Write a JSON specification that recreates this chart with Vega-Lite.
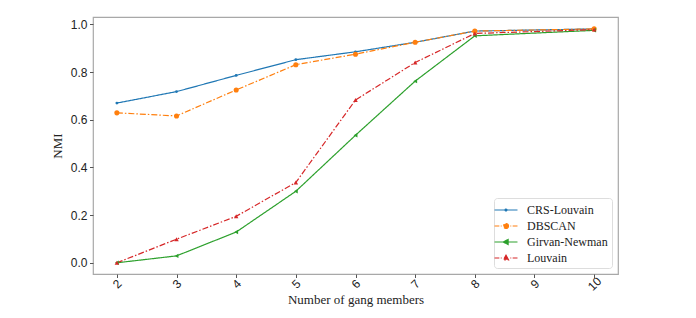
{
  "$schema": "https://vega.github.io/schema/vega-lite/v6.json",
  "width": 525,
  "height": 257,
  "autosize": {"type": "none"},
  "padding": {"left": 93, "top": 17, "right": 78, "bottom": 44},
  "background": "white",
  "config": {
    "view": {"stroke": "#a8a8a8", "strokeWidth": 1.2},
    "axis": {"grid": false, "domain": false, "tickColor": "#555", "tickSize": 3.5, "labelFont": "Liberation Sans", "labelFontSize": 12, "labelColor": "#222", "titleFont": "Liberation Serif", "titleFontSize": 13, "titleFontWeight": "normal", "titleColor": "#222"}
  },
  "data": {"values": [
    {"n": 2, "method": "CRS-Louvain", "nmi": 0.670},
    {"n": 3, "method": "CRS-Louvain", "nmi": 0.718},
    {"n": 4, "method": "CRS-Louvain", "nmi": 0.786},
    {"n": 5, "method": "CRS-Louvain", "nmi": 0.852},
    {"n": 6, "method": "CRS-Louvain", "nmi": 0.885},
    {"n": 7, "method": "CRS-Louvain", "nmi": 0.925},
    {"n": 8, "method": "CRS-Louvain", "nmi": 0.972},
    {"n": 10, "method": "CRS-Louvain", "nmi": 0.981},
    {"n": 2, "method": "DBSCAN", "nmi": 0.629},
    {"n": 3, "method": "DBSCAN", "nmi": 0.616},
    {"n": 4, "method": "DBSCAN", "nmi": 0.725},
    {"n": 5, "method": "DBSCAN", "nmi": 0.831},
    {"n": 6, "method": "DBSCAN", "nmi": 0.875},
    {"n": 7, "method": "DBSCAN", "nmi": 0.925},
    {"n": 8, "method": "DBSCAN", "nmi": 0.972},
    {"n": 10, "method": "DBSCAN", "nmi": 0.981},
    {"n": 2, "method": "Girvan-Newman", "nmi": 0.0},
    {"n": 3, "method": "Girvan-Newman", "nmi": 0.029},
    {"n": 4, "method": "Girvan-Newman", "nmi": 0.129},
    {"n": 5, "method": "Girvan-Newman", "nmi": 0.300},
    {"n": 6, "method": "Girvan-Newman", "nmi": 0.535},
    {"n": 7, "method": "Girvan-Newman", "nmi": 0.762},
    {"n": 8, "method": "Girvan-Newman", "nmi": 0.952},
    {"n": 10, "method": "Girvan-Newman", "nmi": 0.975},
    {"n": 2, "method": "Louvain", "nmi": 0.0},
    {"n": 3, "method": "Louvain", "nmi": 0.099},
    {"n": 4, "method": "Louvain", "nmi": 0.195},
    {"n": 5, "method": "Louvain", "nmi": 0.337},
    {"n": 6, "method": "Louvain", "nmi": 0.683},
    {"n": 7, "method": "Louvain", "nmi": 0.840},
    {"n": 8, "method": "Louvain", "nmi": 0.962},
    {"n": 10, "method": "Louvain", "nmi": 0.978}
  ]},
  "encoding": {
    "x": {"field": "n", "type": "quantitative", "scale": {"domain": [1.6, 10.4], "nice": false, "zero": false},
      "axis": {"values": [2, 3, 4, 5, 6, 7, 8, 9, 10], "title": "Number of gang members", "labelAngle": -45, "labelAlign": "center", "labelBaseline": "middle", "labelPadding": 6, "titlePadding": 1}},
    "y": {"field": "nmi", "type": "quantitative", "scale": {"domain": [-0.047, 1.031], "nice": false, "zero": false},
      "axis": {"values": [0, 0.2, 0.4, 0.6, 0.8, 1.0], "format": ".1f", "title": "NMI", "labelPadding": 2.5, "titlePadding": 6}},
    "color": {"field": "method", "type": "nominal",
      "scale": {"domain": ["CRS-Louvain", "DBSCAN", "Girvan-Newman", "Louvain"], "range": ["#1f77b4", "#ff7f0e", "#2ca02c", "#d62728"]},
      "legend": {"title": null, "orient": "bottom-right", "offset": 6, "symbolSize": 196, "symbolStrokeWidth": 1.2, "labelFont": "Liberation Serif", "labelFontSize": 12, "labelColor": "#222", "labelOffset": 13, "rowPadding": 2, "padding": 4, "strokeColor": "#ddd", "cornerRadius": 3, "fillColor": "white",
        "encode": {"symbols": {"update": {
          "shape": {"signal": "datum.value === 'CRS-Louvain' ? 'M-1.64,0H1.64M0.14,0A0.14,0.14 0 1,1 -0.14,0A0.14,0.14 0 1,1 0.14,0' : datum.value === 'DBSCAN' ? 'M-1.64,0H-0.95M-0.75,0H-0.62M0.62,0H0.75M0.95,0H1.64M0.36,0A0.36,0.36 0 1,1 -0.36,0A0.36,0.36 0 1,1 0.36,0' : datum.value === 'Girvan-Newman' ? 'M-1.64,0H1.64M-0.38,0L0.3,-0.36L0.3,0.36Z' : 'M-1.64,0H-0.95M-0.75,0H-0.62M0.62,0H0.75M0.95,0H1.64M0,-0.4L0.36,0.26L-0.36,0.26Z'"},
          "size": {"value": 196},
          "fill": {"signal": "scale('color', datum.value)"},
          "stroke": {"signal": "scale('color', datum.value)"},
          "strokeDash": {"value": [1, 0]},
          "opacity": {"value": 1}
        }}}}}
  },
  "layer": [
    {
      "mark": {"type": "line", "strokeWidth": 1.2},
      "encoding": {
        "strokeDash": {"field": "method", "type": "nominal",
          "scale": {"domain": ["CRS-Louvain", "DBSCAN", "Girvan-Newman", "Louvain"], "range": [[1, 0], [6, 2, 1.5, 2], [1, 0], [6, 2, 1.5, 2]]},
          "legend": {"title": null}}
      }
    },
    {
      "mark": {"type": "point", "filled": true, "opacity": 1},
      "encoding": {
        "shape": {"condition": [{"test": "datum.method === 'Girvan-Newman'", "value": "triangle-left"}, {"test": "datum.method === 'Louvain'", "value": "triangle-up"}], "value": "circle"},
        "size": {"condition": [{"test": "datum.method === 'CRS-Louvain'", "value": 8}, {"test": "datum.method === 'DBSCAN'", "value": 26}], "value": 20}
      }
    }
  ]
}
